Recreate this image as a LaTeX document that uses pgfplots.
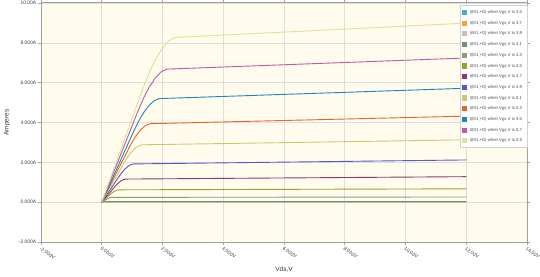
\documentclass[border=0pt]{standalone}
\usepackage{fontspec}
\setmainfont{Liberation Sans}
\usepackage{pgfplots}
\pgfplotsset{compat=1.18}
\definecolor{bgc}{HTML}{FFFCEE}
\definecolor{c35}{HTML}{4BACC6}
\definecolor{c37}{HTML}{F4A433}
\definecolor{c39}{HTML}{C8C2A8}
\definecolor{c41}{HTML}{6F8F7F}
\definecolor{c43}{HTML}{8C9C6C}
\definecolor{c45}{HTML}{9AA02A}
\definecolor{c47}{HTML}{8B3A6B}
\definecolor{c49}{HTML}{5A55C8}
\definecolor{c51}{HTML}{CCC870}
\definecolor{c53}{HTML}{E8652A}
\definecolor{c55}{HTML}{1B87BE}
\definecolor{c57}{HTML}{C057A8}
\definecolor{c59}{HTML}{D8E496}
\begin{document}
\begin{tikzpicture}
\useasboundingbox (-41bp,-35bp) rectangle (499bp,242bp);
\begin{axis}[
  at={(0,0)}, anchor=south west,
  scale only axis, width=486bp, height=239bp,
  xmin=-2, xmax=14, ymin=-2, ymax=10,
  xtick={-2,0,2,4,6,8,10,12,14},
  xticklabels={-2.000V,0.000V,2.000V,4.000V,6.000V,8.000V,10.00V,12.00V,14.00V},
  ytick={-2,0,2,4,6,8,10},
  yticklabels={-2.000A,0.000A,2.000A,4.000A,6.000A,8.000A,10.00A},
  ticklabel style={font=\fontsize{5}{6}\selectfont, text=black!75},
  xticklabel style={rotate=-35, anchor=north west, inner sep=1bp},
  yticklabel style={inner sep=1.5bp},
  tick align=outside, major tick length=3bp,
  tick style={gray!70, line width=0.6bp},
  grid=major, major grid style={black!13, line width=0.6bp},
  axis background/.style={fill=bgc},
  axis line style={gray!75, line width=1bp},
  xlabel={Vds,V}, ylabel={Amperes},
  label style={font=\fontsize{6.5}{7.5}\selectfont, text=black!80},
  xlabel style={at={(axis description cs:0.5,-0.117)}, anchor=center},
  ylabel style={at={(axis description cs:-0.07,0.5)}, anchor=center},
  legend style={at={(rel axis cs:1,0.99)}, anchor=north east,
    draw=gray!35, fill=white, font=\fontsize{4.3}{5}\selectfont,
    text=black!70, row sep=1bp, inner xsep=2bp, inner ysep=2bp,
    nodes={inner sep=2.7bp, text height=3.3bp, text depth=1bp}},
  legend cell align=left,
  legend image code/.code={\fill[#1,draw=none] (0bp,-2.6bp) rectangle (5.2bp,2.6bp);},
  every axis plot/.append style={line width=0.9bp, mark=none, line join=round},
]
\addplot[c35] coordinates {(0,0) (12,0)};
\addlegendentry{I(M1,+D) when Vgs,V is 3.5}
\addplot[c37] coordinates {(0,0) (12,0)};
\addlegendentry{I(M1,+D) when Vgs,V is 3.7}
\addplot[c39] coordinates {(0,0) (12,0)};
\addlegendentry{I(M1,+D) when Vgs,V is 3.9}
\addplot[c41] coordinates {(0,0) (0.06,0.02) (0.12,0.025) (12,0.028)};
\addlegendentry{I(M1,+D) when Vgs,V is 4.1}
\addplot[c43] coordinates {(0,0) (0.09,0.081) (0.18,0.161) (0.21,0.186) (0.24,0.207) (0.27,0.223) (0.3,0.235) (0.33,0.24) (12,0.26)};
\addlegendentry{I(M1,+D) when Vgs,V is 4.3}
\addplot[c45] coordinates {(0,0) (0.15,0.208) (0.3,0.417) (0.35,0.481) (0.4,0.535) (0.45,0.577) (0.5,0.607) (0.55,0.62) (12,0.67)};
\addlegendentry{I(M1,+D) when Vgs,V is 4.5}
\addplot[c47] coordinates {(0,0) (0.216,0.390) (0.432,0.780) (0.504,0.900) (0.576,1.001) (0.648,1.080) (0.72,1.136) (0.792,1.16) (12,1.28)};
\addlegendentry{I(M1,+D) when Vgs,V is 4.7}
\addplot[c49] coordinates {(0,0) (0.285,0.645) (0.57,1.290) (0.665,1.490) (0.76,1.657) (0.855,1.788) (0.95,1.880) (1.045,1.92) (12,2.12)};
\addlegendentry{I(M1,+D) when Vgs,V is 4.9}
\addplot[c51] coordinates {(0,0) (0.36,0.968) (0.72,1.935) (0.84,2.235) (0.96,2.485) (1.08,2.681) (1.2,2.820) (1.32,2.88) (12,3.13)};
\addlegendentry{I(M1,+D) when Vgs,V is 5.1}
\addplot[c53] coordinates {(0,0) (0.435,1.324) (0.87,2.648) (1.015,3.057) (1.16,3.400) (1.305,3.668) (1.45,3.857) (1.595,3.94) (12,4.32)};
\addlegendentry{I(M1,+D) when Vgs,V is 5.3}
\addplot[c55] coordinates {(0,0) (0.516,1.747) (1.032,3.494) (1.204,4.035) (1.376,4.488) (1.548,4.841) (1.72,5.091) (1.892,5.2) (12,5.72)};
\addlegendentry{I(M1,+D) when Vgs,V is 5.5}
\addplot[c57] coordinates {(0,0) (0.585,2.244) (1.17,4.489) (1.365,5.184) (1.56,5.765) (1.755,6.219) (1.95,6.540) (2.145,6.68) (12,7.24)};
\addlegendentry{I(M1,+D) when Vgs,V is 5.7}
\addplot[c59] coordinates {(0,0) (0.66,2.779) (1.32,5.557) (1.54,6.418) (1.76,7.137) (1.98,7.699) (2.2,8.096) (2.42,8.27) (12,8.99)};
\addlegendentry{I(M1,+D) when Vgs,V is 5.9}
\end{axis}
\end{tikzpicture}
\end{document}
